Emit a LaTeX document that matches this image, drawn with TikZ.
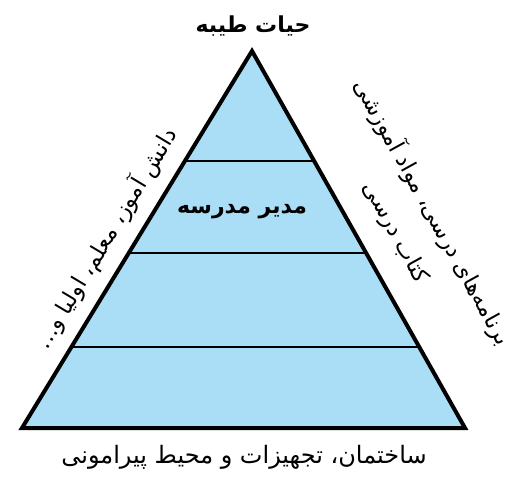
\documentclass[tikz,border=0pt]{standalone}
\usepackage{fontspec}
\usetikzlibrary{calc}
\newfontfamily\farsi[Script=Arabic]{DejaVu Sans}
\definecolor{pyrblue}{RGB}{170,222,246}
\TeXXeTstate=1

\begin{document}
\begin{tikzpicture}[x=0.75pt,y=0.75pt,yscale=-1,xscale=1,
  lbl/.style={inner sep=0.75pt,font=\farsi\fontsize{17}{22}\selectfont},
  ttl/.style={inner sep=0.75pt,font=\farsi\bfseries\fontsize{16.5}{20}\selectfont},
  level/.style={line width=1.5pt},
  rim/.style={line width=3pt,line join=miter}]
                \useasboundingbox (0,0) rectangle (523,488);
                \coordinate (apex) at (252,51);
                \coordinate (bl) at (22,428);
                \coordinate (br) at (465,428);
                \fill [pyrblue] (apex) -- (bl) -- (br) -- cycle;
                % three levels
                \draw [level] ($(apex)!0.292!(bl)$) -- ($(apex)!0.292!(br)$);
                \draw [level] ($(apex)!0.536!(bl)$) -- ($(apex)!0.536!(br)$);
                \draw [level] ($(apex)!0.785!(bl)$) -- ($(apex)!0.785!(br)$);
                \draw [rim] (apex) -- (bl) -- (br) -- cycle;
                \node [ttl] (goal) at (253,26) {\beginR حیات طیبه\endR};
                \node [ttl] (head) at (242,212) {\beginR مدیر مدرسه\endR};
                \node [lbl,font=\farsi\fontsize{18}{22}\selectfont] (base) at (244,457) {\beginR ساختمان، تجهیزات و محیط پیرامونی\endR};
                \node [lbl,rotate=59] (people) at (106,238) {\beginR دانش آموز، معلم، اولیا و...\endR};
                \node [lbl,rotate=-61,align=center] (books) at (415,222) {\beginR برنامه‌های درسی، مواد آموزشی\endR\\[9pt]\beginR کتاب درسی\endR};
\end{tikzpicture}
\end{document}
